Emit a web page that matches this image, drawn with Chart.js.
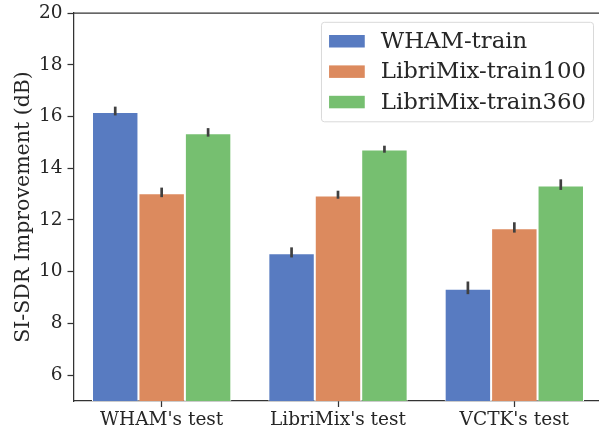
<!DOCTYPE html>
<html>
<head>
<meta charset="utf-8">
<script src="https://cdn.jsdelivr.net/npm/chart.js@4/dist/chart.umd.min.js"></script>
<style>
  html, body { margin: 0; padding: 0; background: #fff; overflow: hidden; }
  #wrap { width: 599px; height: 427px; overflow: hidden; }
</style>
</head>
<body>
<div id="wrap"><canvas id="chart" width="605" height="427"></canvas></div>
<script>
// SI-SDR improvement per test set, grouped by training set, with error bars.
const categories = ["WHAM's test", "LibriMix's test", "VCTK's test"];
const seriesNames = ["WHAM-train", "LibriMix-train100", "LibriMix-train360"];
const whamTrain = [16.17, 10.71, 9.34];
const libri100 = [13.03, 12.94, 11.68];
const libri360 = [15.35, 14.72, 13.33];
// error bar ends (low / high)
const whamTrainLo = [16.04, 10.55, 9.13];
const whamTrainHi = [16.38, 10.94, 9.62];
const libri100Lo = [12.88, 12.82, 11.51];
const libri100Hi = [13.25, 13.13, 11.91];
const libri360Lo = [15.22, 14.60, 13.16];
const libri360Hi = [15.55, 14.87, 13.57];
const yTicks = [6, 8, 10, 12, 14, 16, 18, 20];

const colors = ["#587bc1", "#dc8a5e", "#76bf70"];
const FONT = "'DejaVu Serif', serif";
const INK = "#262626";

function ds(i, data, lo, hi) {
  return {
    label: seriesNames[i],
    data: data,
    errLo: lo,
    errHi: hi,
    backgroundColor: colors[i],
    borderColor: "#ffffff",
    borderWidth: 1,
    borderSkipped: false,
    categoryPercentage: 0.79,
    barPercentage: 1.0,
  };
}

// error bars drawn through the y scale
const errorBars = {
  id: "errorBars",
  afterDatasetsDraw(chart) {
    const ctx = chart.ctx;
    const y = chart.scales.y;
    ctx.save();
    ctx.strokeStyle = "#404040";
    ctx.lineWidth = 2.7;
    ctx.lineCap = "butt";
    chart.data.datasets.forEach((d, i) => {
      chart.getDatasetMeta(i).data.forEach((bar, j) => {
        ctx.beginPath();
        ctx.moveTo(bar.x, y.getPixelForValue(d.errLo[j]));
        ctx.lineTo(bar.x, y.getPixelForValue(d.errHi[j]));
        ctx.stroke();
      });
    });
    ctx.restore();
  },
};

// top spine + legend inside the plot, upper right
const frame = {
  id: "frame",
  afterDraw(chart) {
    const ctx = chart.ctx;
    const ca = chart.chartArea;
    ctx.save();
    ctx.strokeStyle = "#333";
    ctx.lineWidth = 1.25;
    ctx.beginPath();
    ctx.moveTo(ca.left, ca.top);
    ctx.lineTo(ca.right, ca.top);
    ctx.stroke();

    ctx.font = "22.8px " + FONT;
    const names = chart.data.datasets.map((d) => d.label);
    const tw = Math.max(...names.map((n) => ctx.measureText(n).width));
    const pad = 7.6, sw = 35.7, gap = 16, row = 30.4;
    const w = pad + sw + gap + tw + pad;
    const h = 99.5;
    const right = ca.right - 9;
    const x0 = right - w, y0 = ca.top + 9.3;
    ctx.beginPath();
    ctx.roundRect(x0, y0, w, h, 3);
    ctx.fillStyle = "rgba(255,255,255,0.8)";
    ctx.fill();
    ctx.strokeStyle = "#d9d9d9";
    ctx.lineWidth = 1;
    ctx.stroke();
    ctx.textBaseline = "middle";
    names.forEach((n, i) => {
      const cy = y0 + 18.7 + i * row;
      ctx.fillStyle = colors[i];
      ctx.fillRect(x0 + pad, cy - 6, sw, 12.5);
      ctx.fillStyle = INK;
      ctx.fillText(n, x0 + pad + sw + gap, cy + 1);
    });
    ctx.restore();
  },
};

new Chart(document.getElementById("chart"), {
  type: "bar",
  data: {
    labels: categories,
    datasets: [
      ds(0, whamTrain, whamTrainLo, whamTrainHi),
      ds(1, libri100, libri100Lo, libri100Hi),
      ds(2, libri360, libri360Lo, libri360Hi),
    ],
  },
  options: {
    responsive: false,
    animation: false,
    devicePixelRatio: 1,
    layout: { padding: { top: 13, right: 2.5, left: 0, bottom: 0 } },
    plugins: { legend: { display: false }, tooltip: { enabled: false } },
    scales: {
      x: {
        grid: { offset: false, drawOnChartArea: false, drawTicks: true, tickLength: 6, tickColor: "#333", tickWidth: 1.25 },
        border: { color: "#333", width: 1.25 },
        ticks: { color: INK, font: { family: FONT, size: 18.5 }, padding: 2, maxRotation: 0 },
        afterFit(s) { s.height = 26; s.paddingLeft = 0; s.paddingRight = 0; },
      },
      y: {
        min: 5,
        max: 20,
        afterBuildTicks(s) { s.ticks = yTicks.map((v) => ({ value: v })); },
        grid: { drawOnChartArea: false, drawTicks: true, tickLength: 6, tickColor: "#333", tickWidth: 1.25 },
        border: { color: "#333", width: 1.25 },
        ticks: { color: INK, font: { family: FONT, size: 18.5 }, padding: 5 },
        title: {
          display: true,
          text: "SI-SDR Improvement (dB)",
          color: INK,
          font: { family: FONT, size: 20.5 },
          padding: { top: 11, bottom: 0 },
        },
        afterFit(s) { s.width = 73.5; s.paddingTop = 0; s.paddingBottom = 0; },
      },
    },
  },
  plugins: [errorBars, frame],
});
</script>
</body>
</html>
